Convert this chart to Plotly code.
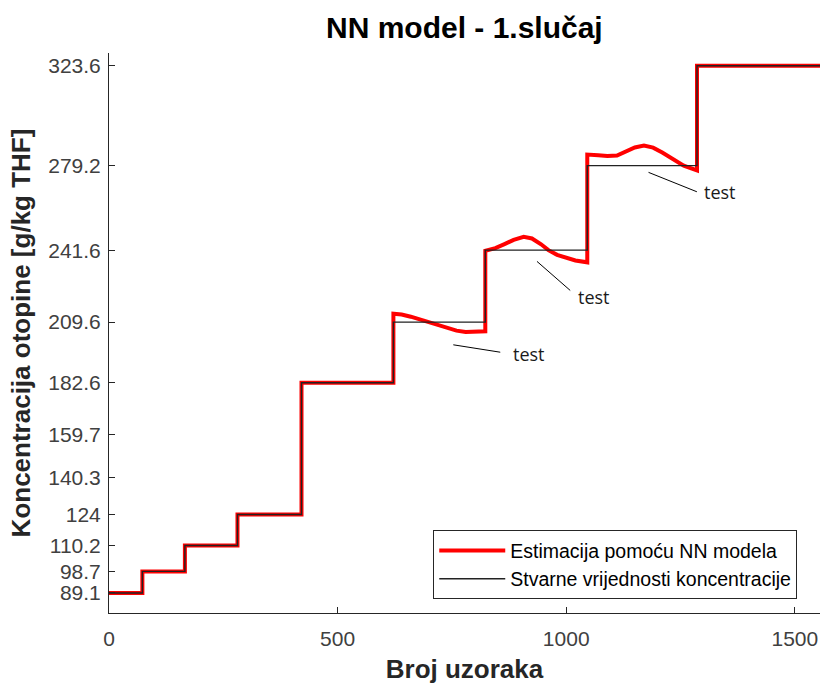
import plotly.graph_objects as go

# ---- data ----
step_edges = [0, 73, 166, 281, 421, 622, 823, 1046, 1286, 1555]
true_values = [89.1, 98.7, 110.2, 124, 182.6, 209.6, 241.6, 279.2, 323.6]

# estimation deviations in the test segments (index of step -> profile)
test1_x = [622, 640, 660, 680, 700, 720, 740, 760, 780, 800, 823]
test1_y = [213.3, 213.0, 212.0, 210.8, 209.5, 208.0, 206.8, 205.8, 205.2, 205.2, 205.5]
test2_x = [823, 845, 865, 885, 907, 925, 945, 961, 980, 1000, 1020, 1046]
test2_y = [241.3, 242.5, 244.3, 246.2, 247.5, 246.8, 244.2, 241.6, 239.5, 238.2, 237.0, 236.2]
test3_x = [1046, 1070, 1090, 1111, 1130, 1150, 1170, 1190, 1210, 1230, 1257, 1286]
test3_y = [284.1, 283.8, 283.5, 283.7, 285.5, 287.3, 288.1, 287.2, 285.0, 282.5, 279.2, 277.1]
test_profiles = {5: (test1_x, test1_y), 6: (test2_x, test2_y), 7: (test3_x, test3_y)}

y_ticks = [89.1, 98.7, 110.2, 124, 140.3, 159.7, 182.6, 209.6, 241.6, 279.2, 323.6]
y_tick_labels = ["89.1", "98.7", "110.2", "124", "140.3", "159.7", "182.6", "209.6", "241.6", "279.2", "323.6"]
x_ticks = [0, 500, 1000, 1500]

# "test" labels: pointer start (near curve), pointer end, label position
test_ptr_x0 = [753, 936, 1180]
test_ptr_y0 = [199.5, 236.6, 276.2]
test_ptr_x1 = [859, 1012, 1289]
test_ptr_y1 = [196.1, 223.1, 267.3]
test_lbl_x = [919, 1060, 1336]
test_lbl_y = [195.5, 220.6, 267.3]

# ---- build series ----
est_x, est_y = [], []
for i, v in enumerate(true_values):
    if i in test_profiles:
        px, py = test_profiles[i]
        est_x += px
        est_y += py
    else:
        est_x += [step_edges[i], step_edges[i + 1]]
        est_y += [v, v]

true_x = step_edges
true_y = true_values + [true_values[-1]]

fig = go.Figure()
fig.add_trace(go.Scatter(x=est_x, y=est_y, mode="lines",
                         line=dict(color="#ff0000", width=4),
                         name="Estimacija pomoću NN modela"))
fig.add_trace(go.Scatter(x=true_x, y=true_y, mode="lines",
                         line=dict(color="#222222", width=1.4, shape="hv"),
                         name="Stvarne vrijednosti koncentracije"))

for x0, y0, x1, y1, lx, ly in zip(test_ptr_x0, test_ptr_y0, test_ptr_x1, test_ptr_y1, test_lbl_x, test_lbl_y):
    fig.add_annotation(x=x0, y=y0, ax=x1, ay=y1, xref="x", yref="y", axref="x", ayref="y",
                       text="", showarrow=True, arrowhead=0, arrowwidth=1, arrowcolor="#000000")
    fig.add_annotation(x=lx, y=ly, xref="x", yref="y", text="test", showarrow=False,
                       font=dict(family="Open Sans", size=18, color="#1a1a1a"))

FIG_W, FIG_H = 822, 684
axis_color = "#262626"
fig.update_layout(
    width=FIG_W, height=FIG_H,
    margin=dict(l=109, r=2, t=53, b=71),
    paper_bgcolor="white", plot_bgcolor="white",
    font=dict(family="Liberation Sans, Arial, sans-serif", color="#262626"),
    title=dict(text="<b>NN model - 1.slučaj</b>", x=0.5649, xanchor="center",
               y=1 - 27 / FIG_H, yanchor="middle", yref="container",
               font=dict(size=30, color="#000000")),
    showlegend=True,
    legend=dict(x=0.968, y=0.0245, xanchor="right", yanchor="bottom",
                bgcolor="white", bordercolor=axis_color, borderwidth=1,
                font=dict(size=19.5, color="#000000"), itemwidth=66,
                tracegroupgap=0),
)
fig.update_xaxes(range=[0, 1555], tickvals=x_ticks, ticks="inside", ticklen=6,
                 tickcolor=axis_color, showline=True, linecolor=axis_color, linewidth=1,
                 showgrid=False, zeroline=False, mirror=False, automargin=False,
                 ticklabelstandoff=7,
                 tickfont=dict(size=21, color="#404040"),
                 title=dict(text="<b>Broj uzoraka</b>", font=dict(size=26, color="#262626"), standoff=18))
fig.update_yaxes(range=[80.2, 329.3], tickvals=y_ticks, ticktext=y_tick_labels, ticks="inside", ticklen=6,
                 tickcolor=axis_color, showline=True, linecolor=axis_color, linewidth=1,
                 showgrid=False, zeroline=False, mirror=False, automargin=False,
                 ticklabelstandoff=3,
                 tickfont=dict(size=21, color="#404040"),
                 title=dict(text="<b>Koncentracija otopine [g/kg THF]</b>", font=dict(size=26, color="#262626"), standoff=10))

# remove the page's default body margin so the figure fills the window exactly
fig.write_html("out.html",
               config={"displayModeBar": False},
               post_script="document.body.style.margin='0';document.body.style.overflow='hidden';")
